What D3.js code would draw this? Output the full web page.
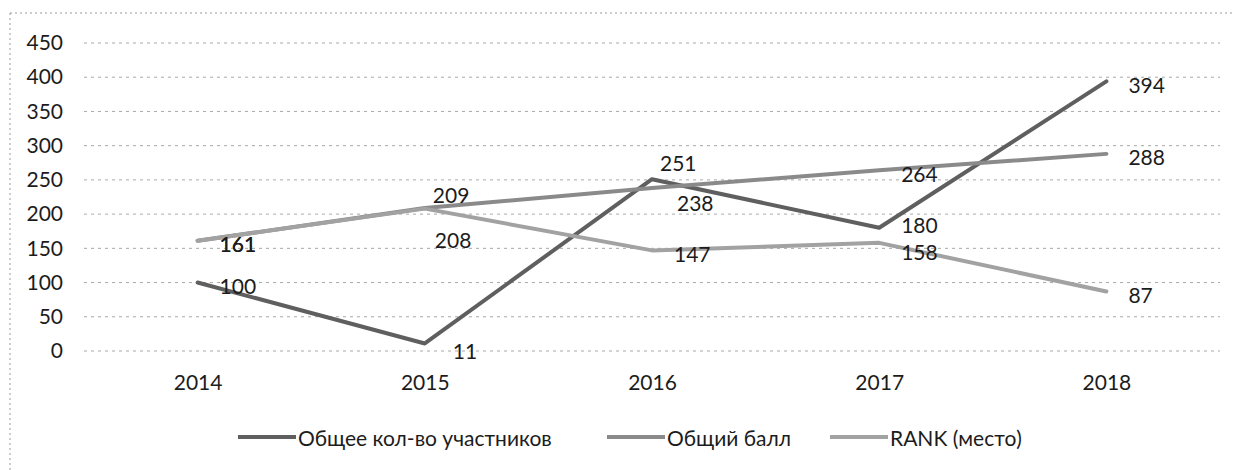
<!DOCTYPE html>
<html>
<head>
<meta charset="utf-8">
<script src="https://cdn.jsdelivr.net/npm/d3@7"></script>
<style>
  html, body { margin: 0; padding: 0; background: #fff; }
  svg { display: block; font-family: Lato, "Open Sans", sans-serif; }
</style>
</head>
<body>
<svg id="chart" width="1235" height="470"></svg>
<script>
// Years on the category axis
const years = ["2014", "2015", "2016", "2017", "2018"];

// Series values per year
const participants = [100, 11, 251, 180, 394];   // Общее кол-во участников
const totalScore   = [161, 209, 238, 264, 288];  // Общий балл
const rankPlace    = [161, 208, 147, 158, 87];   // RANK (место)

const seriesNames  = ["Общее кол-во участников", "Общий балл", "RANK (место)"];
const yTicks       = [0, 50, 100, 150, 200, 250, 300, 350, 400, 450];

const series = [
  { name: seriesNames[0], values: participants, color: "#5f5f5f" },
  { name: seriesNames[1], values: totalScore,   color: "#8a8a8a" },
  { name: seriesNames[2], values: rankPlace,    color: "#a2a2a2" }
];

// Nudges for data labels that would otherwise collide (series index|year)
const labelNudge = {
  "1|2015": [-14, -16],
  "2|2015": [-12, 28],
  "0|2015": [6, 4],
  "0|2016": [-14, -20],
  "1|2016": [3, 11],
  "0|2017": [0, -6],
  "2|2017": [0, 6]
};

const svg = d3.select("#chart");
const textColor = "#1c1c1c";

const x = d3.scalePoint().domain(years).range([84, 1220]).padding(0.5);
const y = d3.scaleLinear().domain([0, 450]).range([351, 43]);

// Outer chart border (dotted, top and left edges)
svg.append("line").attr("x1", 10).attr("x2", 1235).attr("y1", 13).attr("y2", 13)
  .attr("stroke", "#9a9a9a").attr("stroke-width", 1).attr("stroke-dasharray", "2,3");
svg.append("line").attr("x1", 10).attr("x2", 10).attr("y1", 13).attr("y2", 470)
  .attr("stroke", "#9a9a9a").attr("stroke-width", 1).attr("stroke-dasharray", "2,3");

// Horizontal gridlines
svg.append("g").selectAll("line").data(yTicks).join("line")
  .attr("x1", 84).attr("x2", 1220)
  .attr("y1", d => y(d)).attr("y2", d => y(d))
  .attr("stroke", "#a8a8a8").attr("stroke-width", 1).attr("stroke-dasharray", "3,4");

// Y axis labels
const yAxis = d3.axisLeft(y).tickValues(yTicks).tickSize(0).tickPadding(0);
svg.append("g").attr("transform", "translate(63,0)").call(yAxis)
  .call(g => g.select(".domain").remove())
  .call(g => g.selectAll("text").attr("fill", textColor)
    .style("font-size", "21px").style("font-family", "Lato, sans-serif"));

// X axis labels
const xAxis = d3.axisBottom(x).tickSize(0).tickPadding(0);
svg.append("g").attr("transform", "translate(0,375)").call(xAxis)
  .call(g => g.select(".domain").remove())
  .call(g => g.selectAll("text").attr("fill", textColor)
    .style("font-size", "21px").style("font-family", "Lato, sans-serif"));

// Lines
const line = d3.line().x((d, i) => x(years[i])).y(d => y(d));
svg.append("g").selectAll("path").data(series).join("path")
  .attr("d", s => line(s.values))
  .attr("fill", "none")
  .attr("stroke", s => s.color)
  .attr("stroke-width", 4)
  .attr("stroke-linejoin", "round")
  .attr("stroke-linecap", "round");

// Data labels
const labels = svg.append("g");
series.forEach((s, si) => {
  s.values.forEach((v, i) => {
    const n = labelNudge[si + "|" + years[i]] || [0, 0];
    labels.append("text")
      .attr("x", x(years[i]) + 22 + n[0])
      .attr("y", y(v) + 3 + n[1])
      .attr("dominant-baseline", "central")
      .attr("fill", textColor)
      .style("font-size", "21px")
      .text(v);
  });
});

// Legend
const legendItems = [
  { x: 238, s: series[0] },
  { x: 607, s: series[1] },
  { x: 830, s: series[2] }
];
const legend = svg.append("g");
legendItems.forEach(item => {
  legend.append("line")
    .attr("x1", item.x).attr("x2", item.x + 58)
    .attr("y1", 437).attr("y2", 437)
    .attr("stroke", item.s.color).attr("stroke-width", 4);
  legend.append("text")
    .attr("x", item.x + 60).attr("y", 437)
    .attr("dominant-baseline", "central")
    .attr("fill", textColor)
    .style("font-size", "21px")
    .text(item.s.name);
});
</script>
</body>
</html>
